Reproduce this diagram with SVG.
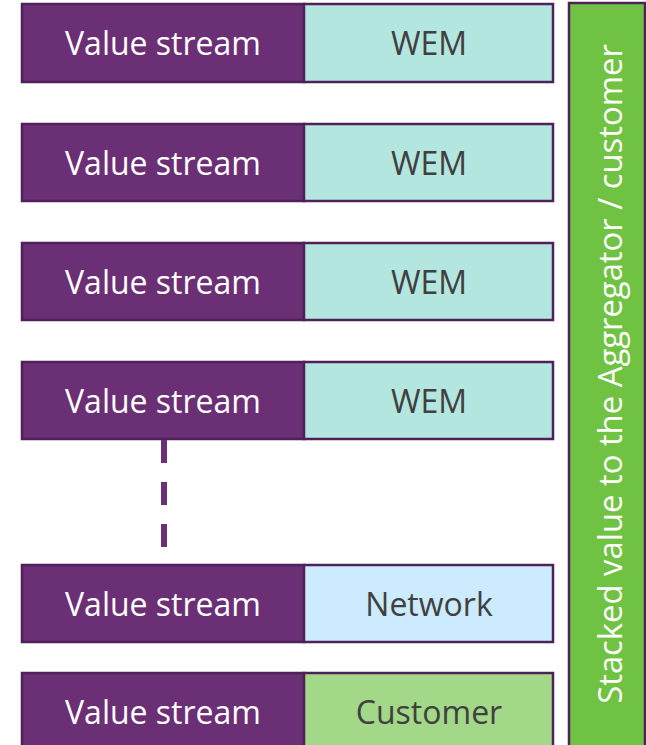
<svg xmlns="http://www.w3.org/2000/svg" width="646" height="745" viewBox="0 0 646 745">
  <style>
    .vs { fill: #6B2F75; stroke: #4E2259; stroke-width: 2.5; }
    .wem { fill: #B3E6DF; stroke: #4E2259; stroke-width: 2.5; }
    .net { fill: #CCEBFE; stroke: #4E2259; stroke-width: 2.5; }
    .cust { fill: #A2D887; stroke: #4E2259; stroke-width: 2.5; }
    .bar { fill: #70C243; stroke: #4E2259; stroke-width: 2.5; }
    text { font-family: "Open Sans", "Noto Sans", "Liberation Sans", sans-serif; font-size: 32px; text-anchor: middle; }
    text.side { font-size: 32.8px; }
    .light { fill: #FFFFFF; }
    .dark { fill: #404040; }
    .dash { stroke: #6B2F75; stroke-width: 6; stroke-dasharray: 23 19; fill: none; }
  </style>

  <rect width="646" height="745" fill="#FFFFFF"/>

  <g id="row1">
    <rect class="vs" x="22" y="4" width="282" height="78"/>
    <rect class="wem" x="304" y="4" width="249" height="78"/>
    <text class="light" x="163" y="55">Value stream</text>
    <text class="dark" x="429" y="55">WEM</text>
  </g>

  <g id="row2">
    <rect class="vs" x="22" y="124" width="282" height="77"/>
    <rect class="wem" x="304" y="124" width="249" height="77"/>
    <text class="light" x="163" y="175">Value stream</text>
    <text class="dark" x="429" y="175">WEM</text>
  </g>

  <g id="row3">
    <rect class="vs" x="22" y="243" width="282" height="77"/>
    <rect class="wem" x="304" y="243" width="249" height="77"/>
    <text class="light" x="163" y="294">Value stream</text>
    <text class="dark" x="429" y="294">WEM</text>
  </g>

  <g id="row4">
    <rect class="vs" x="22" y="362" width="282" height="77"/>
    <rect class="wem" x="304" y="362" width="249" height="77"/>
    <text class="light" x="163" y="413">Value stream</text>
    <text class="dark" x="429" y="413">WEM</text>
  </g>

  <g id="row5">
    <rect class="vs" x="22" y="565" width="282" height="77"/>
    <rect class="net" x="304" y="565" width="249" height="77"/>
    <text class="light" x="163" y="616">Value stream</text>
    <text class="dark" x="429" y="616">Network</text>
  </g>

  <g id="row6">
    <rect class="vs" x="22" y="673" width="282" height="80"/>
    <rect class="cust" x="304" y="673" width="249" height="80"/>
    <text class="light" x="163" y="724">Value stream</text>
    <text class="dark" x="429" y="724">Customer</text>
  </g>

  <g id="aggregator">
    <rect class="bar" x="569" y="3" width="76" height="760"/>
    <text class="light side" transform="translate(622 374) rotate(-90)" x="0" y="0">Stacked value to the Aggregator / customer</text>
  </g>

  <g id="connectors">
    <line class="dash" x1="164" y1="440" x2="164" y2="547"/>
  </g>
</svg>
